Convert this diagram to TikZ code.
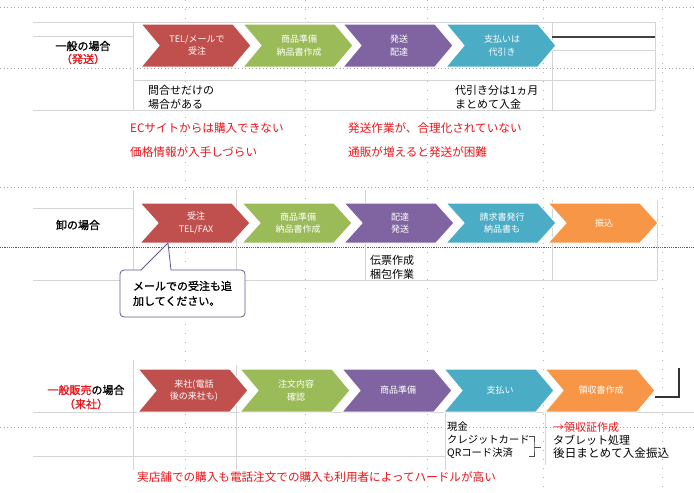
\documentclass[tikz,border=0pt]{standalone}
\usepackage{fontspec}
\setmainfont{Noto Sans CJK JP}
\newfontfamily\jpbold[FakeBold=1.2]{Noto Sans CJK JP}
\definecolor{cred}{HTML}{C0504D}
\definecolor{cgreen}{HTML}{9BBB59}
\definecolor{cpurple}{HTML}{8064A2}
\definecolor{cteal}{HTML}{4BACC6}
\definecolor{corange}{HTML}{F79646}
\definecolor{txtred}{HTML}{E8161B}
\definecolor{gridc}{HTML}{D4D4D4}
\definecolor{coline}{HTML}{5B5B8F}
\newcommand{\mychev}[6]{%
  \fill[#5, draw=white, line width=1pt] (#2,#3) -- (#2+92,#3) -- (#2+110,{(#3+#4)/2}) -- (#2+92,#4) -- (#2,#4) -- (#2+18,{(#3+#4)/2}) -- cycle;
  \node[chevtxt] (#1) at ({#2+56},{(#3+#4)/2}) {#6};}
\tikzset{
  gridline/.style={draw=gridc, line width=0.7pt},
  pagebrk/.style={draw=black!35, line width=0.6pt, dash pattern=on 1pt off 2.5pt},
  vbrk/.style={draw=black!30, line width=0.6pt, dash pattern=on 1pt off 8pt},
  darkbrk/.style={draw=black!65, line width=0.7pt, dash pattern=on 1.2pt off 1pt},
  lbl/.style={anchor=west, inner sep=0pt, font=\fontsize{11}{13}\selectfont},
  smlbl/.style={anchor=west, inner sep=0pt, font=\fontsize{10.3}{13}\selectfont},
  redlbl/.style={lbl, text=txtred, font=\fontsize{11.6}{13}\selectfont},
  clbl/.style={inner sep=0pt, font=\jpbold\fontsize{11}{13}\selectfont},
  chevtxt/.style={text=white, align=center, inner sep=0pt, font=\fontsize{9}{12.5}\selectfont},
}
\begin{document}
\begin{tikzpicture}[x=1pt,y=-1pt]
\useasboundingbox (0,0) rectangle (694,493);
\fill[white] (0,0) rectangle (694,493);
% vertical page-break dots
\foreach \vx in {185,305,427,543,662} \draw[vbrk] (\vx,0) -- (\vx,493);
% horizontal page breaks
\draw[pagebrk] (0,7) -- (694,7);
\draw[pagebrk] (0,68) -- (694,68);
\draw[pagebrk] (0,187) -- (694,187);
\draw[pagebrk] (0,427) -- (694,427);
\draw[darkbrk] (0,247) -- (694,247);
% section 1 grid
\draw[gridline] (33,22) -- (655,22);
\draw[gridline] (33,36) -- (133,36);
\draw[gridline] (552,50) -- (655,50);
\draw[gridline] (133,80) -- (655,80);
\draw[gridline] (33,110) -- (655,110);
\draw[gridline] (133,22) -- (133,110);
\draw[gridline] (552,22) -- (552,110);
\draw[gridline] (655,22) -- (655,110);
% section 2 grid
\draw[gridline] (33,208) -- (133,208);
\draw[gridline] (33,280) -- (657,280);
\draw[gridline] (133,190) -- (133,280);
\draw[gridline] (236,190) -- (236,270);
\draw[gridline] (365,190) -- (365,280);
\draw[gridline] (552,200) -- (552,280);
\draw[gridline] (657,200) -- (657,280);
% section 3 grid
\draw[gridline] (33,412) -- (694,412);
\draw[gridline] (33,456) -- (445,456);
\draw[gridline] (133,360) -- (133,470);
\draw[gridline] (236,365) -- (236,470);
\draw[gridline] (445,412) -- (445,470);
\draw[gridline] (545,412) -- (545,465);

% ---- section 1 ----
\node[clbl] (l1a) at (83,46) {一般の場合};
\node[clbl, text=txtred] (l1b) at (83,59) {（発送）};
\mychev{a1}{141}{24}{67}{cred}{TEL/メールで\\受注}
\mychev{a2}{243}{24}{67}{cgreen}{商品準備\\納品書作成}
\mychev{a3}{343}{24}{67}{cpurple}{発送\\配達}
\mychev{a4}{446}{24}{67}{cteal}{支払いは\\代引き}
\coordinate (b1s) at (552,37);
\coordinate (b1e) at (655,37);
\draw[line width=1.8pt, black!75] (b1s) -- (b1e);
\node[lbl] (n1a) at (148,90) {問合せだけの};
\node[lbl] (n1b) at (148,104) {場合がある};
\node[lbl] (n1c) at (455,90) {代引き分は1ヵ月};
\node[lbl] (n1d) at (455,104) {まとめて入金};
\node[redlbl] (r1a) at (130,128) {ECサイトからは購入できない};
\node[redlbl] (r1b) at (130,152) {価格情報が入手しづらい};
\node[redlbl] (r1c) at (348,128) {発送作業が、合理化されていない};
\node[redlbl] (r1d) at (348,152) {通販が増えると発送が困難};

% ---- section 2 ----
\node[clbl] (l2a) at (78,225) {卸の場合};
\mychev{b1}{140}{203}{243}{cred}{受注\\TEL/FAX}
\mychev{b2}{242}{203}{243}{cgreen}{商品準備\\納品書作成}
\mychev{b3}{344}{203}{243}{cpurple}{配達\\発送}
\mychev{b4}{446}{203}{243}{cteal}{請求書発行\\納品書も}
\mychev{b5}{548}{203}{243}{corange}{振込}
\node[lbl] (n2a) at (370,260) {伝票作成};
\node[lbl] (n2b) at (370,274) {梱包作業};
\node[draw=coline, fill=white, line width=0.8pt, rounded corners=4pt, minimum width=125pt, minimum height=47pt, align=left, inner sep=0pt, font=\jpbold\fontsize{11}{15}\selectfont] (co) at (182.5,293.5) {メールでの受注も追\\加してください。};
\fill[white] (141,271) -- (168,243) -- (171,271) -- cycle;
\draw[coline, line width=0.8pt] (141,270) -- (168,243) -- (171,270);

% ---- section 3 ----
\node[clbl] (l3a) at (86,390) {\textcolor{txtred}{一般販売}の場合};
\node[clbl, text=txtred] (l3b) at (86,404) {（来社）};
\mychev{c1}{138}{369}{412}{cred}{来社(電話\\後の来社も)}
\mychev{c2}{240}{369}{412}{cgreen}{注文内容\\確認}
\mychev{c3}{342}{369}{412}{cpurple}{商品準備}
\mychev{c4}{444}{369}{412}{cteal}{支払い}
\mychev{c5}{545}{369}{412}{corange}{領収書作成}
\coordinate (k1) at (679,368);
\coordinate (k2) at (679,397);
\coordinate (k3) at (655,397);
\draw[line width=1.5pt, black!80] (k1) -- (k2) -- (k3);
\node[smlbl] (n3a) at (447,427) {現金};
\node[smlbl] (n3b) at (447,440) {クレジットカード};
\node[smlbl] (n3c) at (447,453) {QRコード決済};
\coordinate (s1) at (529,436);
\coordinate (s2) at (529,456);
\coordinate (s3) at (534,447);
\coordinate (s4) at (541,447);
\draw[line width=0.7pt, black!70] (s1) -| (s3) |- (s2);
\draw[line width=0.7pt, black!70] (s3) -- (s4);
\node[lbl, text=txtred] (n3d) at (553,427) {→領収証作成};
\node[lbl] (n3e) at (553,440) {タブレット処理};
\node[lbl, font=\fontsize{11.6}{13}\selectfont] (n3f) at (553,453) {後日まとめて入金振込};
\node[redlbl] (r3a) at (137,477) {実店舗での購入も電話注文での購入も利用者によってハードルが高い};
\end{tikzpicture}
\end{document}
